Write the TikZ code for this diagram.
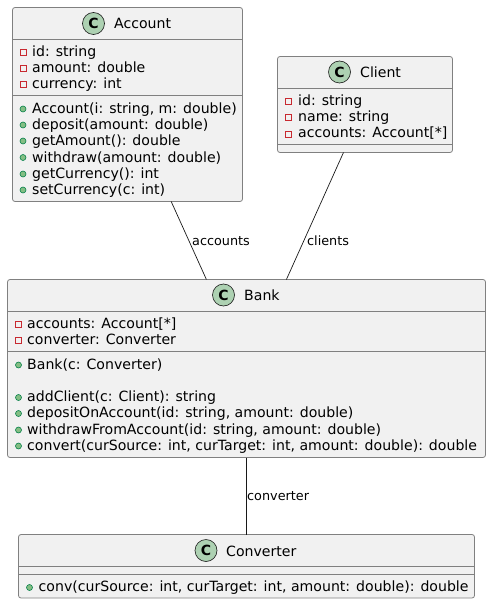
\documentclass[tikz,border=0pt]{standalone}
\usepackage{fontspec}
\setmainfont{DejaVu Sans}
\usepackage{tikz}
\definecolor{boxfill}{HTML}{F1F1F1}
\definecolor{boxline}{HTML}{808080}
\definecolor{assocline}{HTML}{181818}
\definecolor{iconfill}{HTML}{ADD1B2}
\definecolor{privline}{HTML}{C82930}
\definecolor{pubfill}{HTML}{84BE84}
\definecolor{publine}{HTML}{038048}

\begin{document}
\begin{tikzpicture}[x=1pt, y=-1pt]
    \tikzset{
      classbox/.style={rectangle, draw=boxline, fill=boxfill, line width=0.8pt,
        rounded corners=2.5pt, inner sep=0pt, outer sep=0pt},
      sepline/.style={draw=boxline, line width=0.8pt},
      classicon/.style={circle, draw=assocline, fill=iconfill, line width=0.6pt,
        minimum size=22pt, inner sep=0pt, font=\fontsize{14}{14}\selectfont\bfseries},
      classname/.style={anchor=base west, inner sep=0pt, font=\fontsize{14.1}{16}\selectfont},
      member/.style={anchor=base west, inner sep=0pt, font=\fontsize{14.1}{16}\selectfont},
      privmark/.style={rectangle, draw=privline, line width=0.7pt, minimum size=6pt, inner sep=0pt},
      pubmark/.style={circle, draw=publine, fill=pubfill, line width=0.6pt, minimum size=6pt, inner sep=0pt},
      assoc/.style={draw=assocline, line width=0.7pt},
      assoclabel/.style={anchor=base west, inner sep=0pt, font=\fontsize{12.8}{15}\selectfont}
    }
    \useasboundingbox (0,0) rectangle (491,604);

    % class boxes
    \node[classbox, minimum width=230pt, minimum height=194pt] (account) at (127.5,104.5) {};
    \node[classbox, minimum width=175pt, minimum height=96pt] (client) at (365,104.5) {};
    \node[classbox, minimum width=478pt, minimum height=178pt] (bank) at (246.5,368.5) {};
    \node[classbox, minimum width=456pt, minimum height=63.5pt] (converter) at (246.5,566.25) {};

    % associations
    \draw[assoc] (account) -- (bank);
    \draw[assoc] (client) -- (bank);
    \draw[assoc] (bank) -- (converter);
    \node[assoclabel] (lblaccounts) at (192,245) {accounts};
    \node[assoclabel] (lblclients) at (307,245) {clients};
    \node[assoclabel] (lblconverter) at (247,500) {converter};

    % Account
    \draw[sepline] (12.5,39.5) -- (242.5,39.5);
    \draw[sepline] (12.5,95) -- (242.5,95);
    \node[classicon] (accounticon) at (93.5,23.5) {C};
    \node[classname] (accountname) at (114,29) {Account};
    \foreach \ypos/\txt [count=\i] in {56.5/{id: string}, 72.5/{amount: double}, 89/{currency: int}} {
      \node[privmark] (accfm\i) at (23,\ypos-4.5) {};
      \node[member] (accf\i) at (32,\ypos) {\txt};
    }
    \foreach \ypos/\txt [count=\i] in {113.5/{Account(i: string, m: double)}, 129.5/{deposit(amount: double)},
        145.5/{getAmount(): double}, 162/{withdraw(amount: double)},
        178.5/{getCurrency(): int}, 194.5/{setCurrency(c: int)}} {
      \node[pubmark] (accmm\i) at (23,\ypos-4.5) {};
      \node[member] (accm\i) at (32,\ypos) {\txt};
    }

    % Client
    \draw[sepline] (277.5,88.5) -- (452.5,88.5);
    \draw[sepline] (277.5,144.5) -- (452.5,144.5);
    \node[classicon] (clienticon) at (339.5,72) {C};
    \node[classname] (clientname) at (360,77.5) {Client};
    \foreach \ypos/\txt [count=\i] in {105.5/{id: string}, 121.5/{name: string}, 138/{accounts: Account[*]}} {
      \node[privmark] (clifm\i) at (288.5,\ypos-4) {};
      \node[member] (clif\i) at (298,\ypos) {\txt};
    }

    % Bank
    \draw[sepline] (7.5,311.5) -- (485.5,311.5);
    \draw[sepline] (7.5,351.5) -- (485.5,351.5);
    \node[classicon] (bankicon) at (223.5,295) {C};
    \node[classname] (bankname) at (244,300.5) {Bank};
    \foreach \ypos/\txt [count=\i] in {328/{accounts: Account[*]}, 344/{converter: Converter}} {
      \node[privmark] (bnkfm\i) at (18.5,\ypos-3.5) {};
      \node[member] (bnkf\i) at (27,\ypos) {\txt};
    }
    \foreach \ypos/\txt [count=\i] in {369/{Bank(c: Converter)}, 401.5/{addClient(c: Client): string},
        417.5/{depositOnAccount(id: string, amount: double)},
        434/{withdrawFromAccount(id: string, amount: double)},
        450/{convert(curSource: int, curTarget: int, amount: double): double}} {
      \node[pubmark] (bnkmm\i) at (18.5,\ypos-4) {};
      \node[member] (bnkm\i) at (27,\ypos) {\txt};
    }

    % Converter
    \draw[sepline] (18.5,566.5) -- (474.5,566.5);
    \draw[sepline] (18.5,574.5) -- (474.5,574.5);
    \node[classicon] (convertericon) at (206,550.5) {C};
    \node[classname] (convertername) at (226,556) {Converter};
    \node[pubmark] (convmm1) at (29.5,587.5) {};
    \node[member] (convm1) at (38.5,591.5) {conv(curSource: int, curTarget: int, amount: double): double};
  \end{tikzpicture}
\end{document}
